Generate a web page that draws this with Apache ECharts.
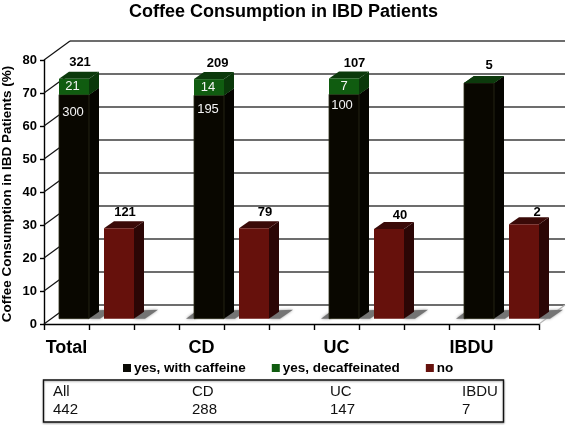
<!DOCTYPE html>
<html><head><meta charset="utf-8">
<style>html,body{margin:0;padding:0;background:#fff}#c{width:567px;height:425px}</style>
<script src="https://cdn.jsdelivr.net/npm/echarts@6/dist/echarts.min.js"></script>
</head><body><div id="c"></div>
<script>
const categories = ['Total','','','CD','','','UC','','','IBDU',''];
const groupSlots = [0,3,6,9];
const pctCaffeine = [67.9,67.7,68.0,71.4];
const pctDecaf = [4.8,4.9,4.8,0];
const pctNo = [27.4,27.4,27.2,28.6];
const countTotalYes = [321,209,107,5];
const countCaffeine = [300,195,100,null];
const countDecaf = [21,14,7,null];
const countNo = [121,79,40,2];
const tableHead = ['All','CD','UC','IBDU'];
const tableCount = ['442','288','147','7'];
const yTicks = [0,10,20,30,40,50,60,70,80];
const seriesNames = ['yes, with caffeine','yes, decaffeinated','no'];

// layout / style constants
const FONT = '"Liberation Sans",Arial,sans-serif';
const BAR_W = 30, BAR_DX = 10, BAR_DY = 7, SLOT_PAD = 15, FLOOR_INSET = 5.3;
const WALL_DX = 26, WALL_DY = 19;
const tableX = [53,192,330,462];
const nudgeTop = [[6,0],[8.7,0],[10.5,1],[10,-2]];
const nudgeNo = [[6,0],[11,0],[11,2],[13,4]];
const nudgeDecaf = [-1.5,-1,0,0];
const nudgeCaf = [[-1,17.7],[-1,14],[-2,10.7],[0,0]];
const C = {
  black:['#090700','#050400','#0c3a0c'],
  green:['#105c10','#0a380a','#0c3a0c'],
  red:['#66110c','#2b0605','#3a0a08']
};

function front(api, slot, val){
  const c = api.coord([slot, val]);
  const w = api.size([1,0])[0];
  const x0 = c[0]-w/2+SLOT_PAD;
  return {x0, x1:x0+BAR_W, y:c[1]-FLOOR_INSET};
}
function barRender(cols, kind){
  return function(params, api){
    const slot = api.value(0), base = api.value(1), top = api.value(1)+api.value(2);
    const b = front(api, slot, base), t = front(api, slot, top);
    const x0=b.x0, x1=b.x1, yb=b.y, yt=t.y, dx=BAR_DX, dy=BAR_DY;
    const kids = [];
    if (base===0){
      const shadow = [[x1,yb],[x1+dx,yb-dy-1.5],[x1+24,yb-9],[x1+11,yb]];
      kids.push({type:'polygon',shape:{points:shadow},style:{fill:'#747474',shadowBlur:3,shadowColor:'#999'}});
      if (kind==='black' && params.dataIndex>0){
        kids.push({type:'polygon',shape:{points:[[x0-8,yb],[x0,yb-6],[x0+2,yb]]},style:{fill:'#747474',shadowBlur:3,shadowColor:'#999'}});
      }
    }
    kids.push({type:'polygon',shape:{points:[[x1,yb],[x1+dx,yb-dy],[x1+dx,yt-dy],[x1,yt]]},style:{fill:cols[1]}});
    kids.push({type:'polygon',shape:{points:[[x0,yt],[x0+dx,yt-dy],[x1+dx,yt-dy],[x1,yt]]},style:{fill:cols[2]}});
    if (yb>yt) kids.push({type:'rect',shape:{x:x0,y:yt,width:BAR_W,height:yb-yt},
      style:{fill:cols[0],stroke:kind==='black'?'#2c2c18':null,lineWidth:kind==='black'?0.8:0}});
    return {type:'group',children:kids};
  };
}
function labelSeries(items){
  return {type:'custom',xAxisIndex:0,yAxisIndex:0,silent:true,z:6,clip:false,
    data:items.map(i=>[i.slot,i.val,i.dx,i.dy]),
    renderItem(params,api){
      const it = items[params.dataIndex];
      const p = front(api, api.value(0), api.value(1));
      return {type:'text',style:{text:it.text,x:p.x0+BAR_W/2+api.value(2),y:p.y+api.value(3),
        fill:it.white?'#f4f4f4':'#000',font:(it.white?'':'bold ')+'13px '+FONT,
        textAlign:'center',textVerticalAlign:'middle'}};
    }};
}
const labels = [];
groupSlots.forEach((s,i)=>{
  labels.push({slot:s,val:pctCaffeine[i]+pctDecaf[i],text:String(countTotalYes[i]),dx:nudgeTop[i][0],dy:-16+nudgeTop[i][1]});
  labels.push({slot:s+1,val:pctNo[i],text:String(countNo[i]),dx:nudgeNo[i][0],dy:-16+nudgeNo[i][1]});
  if(countDecaf[i]!==null) labels.push({slot:s,val:pctCaffeine[i]+pctDecaf[i]/2,text:String(countDecaf[i]),dx:nudgeDecaf[i],dy:0,white:true});
  if(countCaffeine[i]!==null) labels.push({slot:s,val:pctCaffeine[i],text:String(countCaffeine[i]),dx:nudgeCaf[i][0],dy:nudgeCaf[i][1],white:true});
});

const chart = echarts.init(document.getElementById('c'),null,{renderer:'canvas'});
const tableGraphics = [{type:'rect',shape:{x:43.5,y:380,width:460,height:42},
  style:{fill:'#fff',stroke:'#111',lineWidth:1.4,shadowBlur:2,shadowColor:'#aaa',shadowOffsetY:1}}];
tableHead.forEach((h,i)=>{
  tableGraphics.push({type:'text',x:tableX[i],y:391.5,style:{text:h,fill:'#111',font:'15px '+FONT,textVerticalAlign:'middle'}});
  tableGraphics.push({type:'text',x:tableX[i],y:410,style:{text:tableCount[i],fill:'#111',font:'15px '+FONT,textVerticalAlign:'middle'}});
});

chart.setOption({
  animation:false,
  backgroundColor:'#fff',
  title:{text:'Coffee Consumption in IBD Patients',left:'center',top:-2,
    textStyle:{fontFamily:FONT,fontWeight:'bold',fontSize:18,color:'#000'}},
  legend:{data:seriesNames,left:118,top:356,icon:'rect',itemWidth:8,itemHeight:8,itemGap:26,
    textStyle:{fontFamily:FONT,fontWeight:'bold',fontSize:13.5,color:'#000',padding:[0,0,0,-2]}},
  grid:[
    {left:44,right:28,top:60,bottom:101,outerBoundsMode:'none'},
    {left:44+WALL_DX,right:28-WALL_DX,top:60-WALL_DY,bottom:101+WALL_DY,outerBoundsMode:'none'}
  ],
  xAxis:[
    {type:'category',gridIndex:0,data:categories,
      axisLine:{lineStyle:{color:'#000',width:1.4}},
      axisTick:{show:true,alignWithLabel:false,interval:0,length:6,lineStyle:{color:'#000',width:1.4}},
      axisLabel:{interval:0,margin:15,fontFamily:FONT,fontWeight:'bold',fontSize:18,color:'#000'}},
    {type:'category',gridIndex:1,data:categories,axisLine:{show:false},axisTick:{show:false},axisLabel:{show:false}}
  ],
  yAxis:[
    {type:'value',gridIndex:0,min:0,max:80,interval:10,
      name:'Coffee Consumption in IBD Patients (%)',nameLocation:'middle',nameGap:30,nameMoveOverlap:false,
      nameTextStyle:{fontFamily:FONT,fontWeight:'bold',fontSize:13.5,color:'#000',padding:[0,4,0,0]},
      axisLine:{show:true,lineStyle:{color:'#000',width:1.4}},
      axisTick:{show:true,length:4,lineStyle:{color:'#000',width:1.4}},
      axisLabel:{margin:7,fontFamily:FONT,fontWeight:'bold',fontSize:13,color:'#000'},
      splitLine:{show:false}},
    {type:'value',gridIndex:1,min:0,max:80,interval:10,
      axisLine:{show:false},axisTick:{show:false},axisLabel:{show:false},
      splitLine:{show:true,lineStyle:{color:'#3c3c3c',width:1.5}}}
  ],
  graphic:tableGraphics,
  series:[
    {type:'custom',xAxisIndex:0,yAxisIndex:0,silent:true,z:1,clip:false,data:yTicks.map(v=>[0,v]),
      renderItem(params,api){
        const cs = params.coordSys, y = api.coord([0,api.value(1)])[1];
        const kids = [];
        if (api.value(1)===0){
          const xr = cs.x+cs.width;
          kids.push({type:'line',shape:{x1:xr,y1:y,x2:xr+WALL_DX,y2:y-WALL_DY},style:{stroke:'#b5b5b5',lineWidth:1.2}});
        }
        kids.push({type:'line',shape:{x1:cs.x,y1:y,x2:cs.x+WALL_DX,y2:y-WALL_DY},style:{stroke:'#111',lineWidth:1.2}});
        return {type:'group',children:kids};
      }},
    {name:seriesNames[0],type:'custom',xAxisIndex:0,yAxisIndex:0,silent:true,z:3,clip:false,itemStyle:{color:'#0a0a05'},
      data:groupSlots.map((s,i)=>[s,0,pctCaffeine[i]]),renderItem:barRender(C.black,'black')},
    {name:seriesNames[1],type:'custom',xAxisIndex:0,yAxisIndex:0,silent:true,z:4,clip:false,itemStyle:{color:'#105c10'},
      data:groupSlots.map((s,i)=>[s,pctCaffeine[i],pctDecaf[i]]),renderItem:barRender(C.green,'green')},
    {name:seriesNames[2],type:'custom',xAxisIndex:0,yAxisIndex:0,silent:true,z:3,clip:false,itemStyle:{color:'#66110c'},
      data:groupSlots.map((s,i)=>[s+1,0,pctNo[i]]),renderItem:barRender(C.red,'red')},
    labelSeries(labels),
    {type:'line',xAxisIndex:1,yAxisIndex:1,data:[],silent:true}
  ]
});
</script></body></html>
